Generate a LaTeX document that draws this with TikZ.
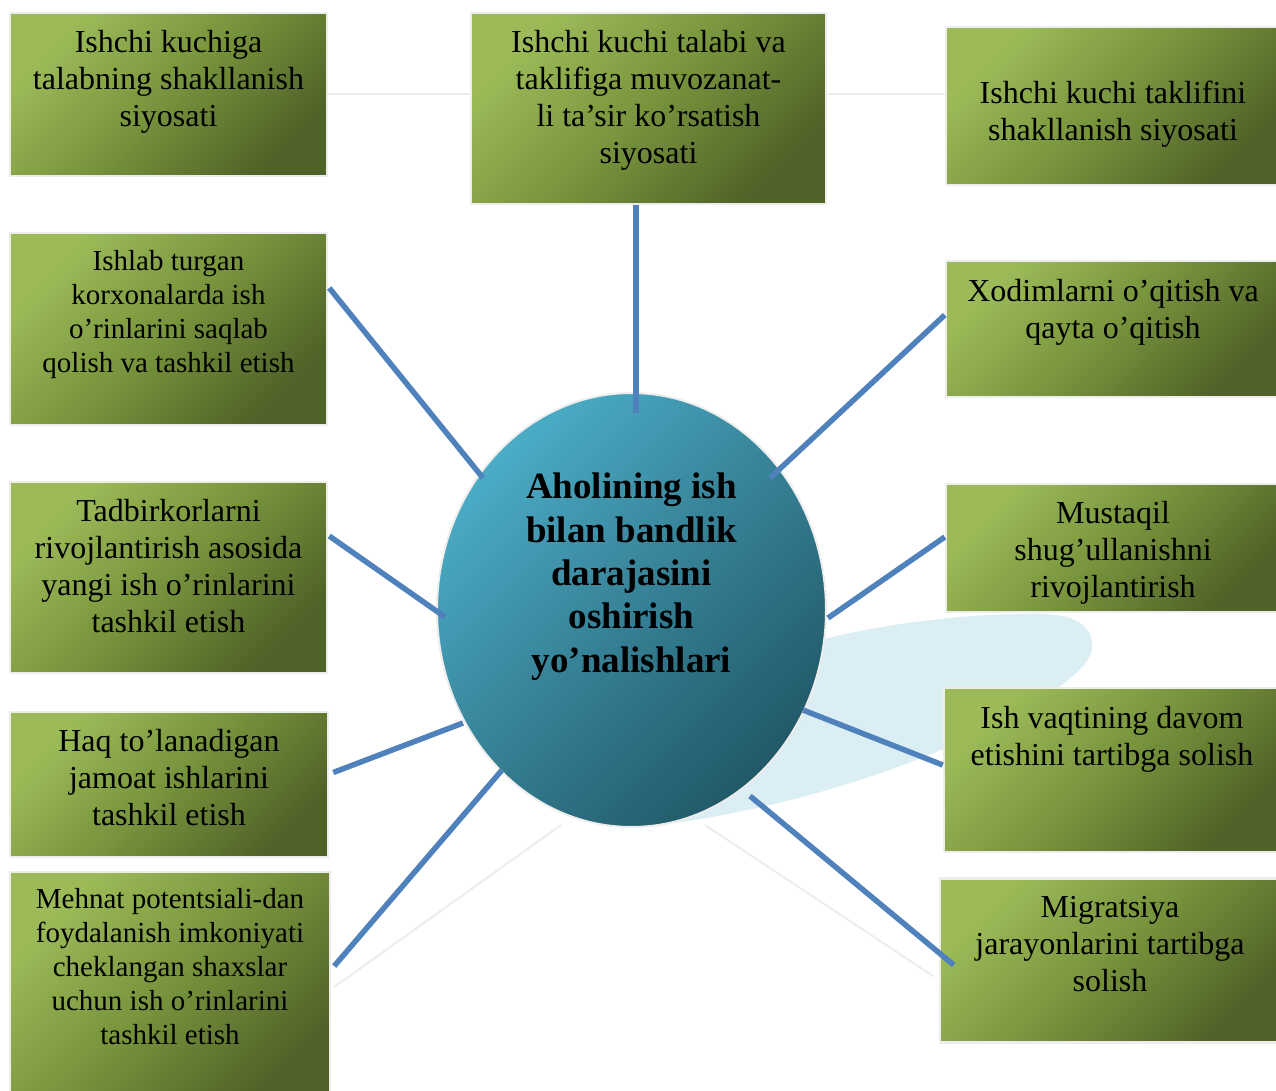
\documentclass[tikz,border=0pt]{standalone}
\usepackage{fontspec}
\setmainfont{Liberation Serif}
\usetikzlibrary{positioning,calc,shapes.geometric}
\definecolor{leafhi}{HTML}{9CBB58}
\definecolor{leafmid}{HTML}{77933C}
\definecolor{leaflo}{HTML}{4F6228}
\definecolor{hubhi}{HTML}{4BACC6}
\definecolor{hubmid}{HTML}{368196}
\definecolor{hublo}{HTML}{215968}
\definecolor{spoke}{HTML}{4F81BD}
\definecolor{swoosh}{HTML}{DAEEF3}
\definecolor{rim}{HTML}{EDEDED}
\tikzset{
  leaf/.style={draw=rim, line width=2.5pt, inner sep=0pt,
    top color=leafhi, bottom color=leaflo, middle color=leafmid, shading angle=45},
  hub/.style={ellipse, draw=rim, line width=2pt, inner sep=0pt,
    top color=hubhi, bottom color=hublo, middle color=hubmid, shading angle=45},
  txt/.style={align=center, inner sep=0pt, font=\fontsize{32}{37}\selectfont},
  smalltxt/.style={txt, font=\fontsize{29}{34}\selectfont},
  hubtxt/.style={align=center, inner sep=0pt, font=\bfseries\fontsize{37}{43.3}\selectfont},
  link/.style={draw=spoke, line width=5.5pt},
  ghost/.style={draw=rim, line width=2pt}
}
\begin{document}
\begin{tikzpicture}[x=1pt, y=-1pt]
\useasboundingbox (0,0) rectangle (1276,1091);
\fill[swoosh] (640,827) .. controls (760,815) and (900,775) .. (1000,722)
  .. controls (1060,690) and (1095,665) .. (1092,643)
  .. controls (1090,620) and (1065,614) .. (1040,614)
  .. controls (960,613) and (880,625) .. (820,640) -- (700,700) -- cycle;
% boxes
\node[leaf, minimum width=317pt, minimum height=163pt] (talab) at (168.5,94.5) {};
\node[leaf, minimum width=355pt, minimum height=191pt] (muvoz) at (648.5,108.5) {};
\node[leaf, minimum width=334pt, minimum height=158pt] (taklif) at (1113,106) {};
\node[leaf, minimum width=317pt, minimum height=192pt] (saqlash) at (168.5,329) {};
\node[leaf, minimum width=334pt, minimum height=136pt] (oqitish) at (1113,329) {};
\node[leaf, minimum width=317pt, minimum height=191pt] (tadbir) at (168.5,577.5) {};
\node[leaf, minimum width=334pt, minimum height=128pt] (mustaqil) at (1113,548) {};
\node[leaf, minimum width=318pt, minimum height=145pt] (jamoat) at (169,784.5) {};
\node[leaf, minimum width=336pt, minimum height=164pt] (vaqt) at (1112,770) {};
\node[leaf, minimum width=320pt, minimum height=232pt] (mehnat) at (170,988) {};
\node[leaf, minimum width=340pt, minimum height=164pt] (migr) at (1110,960.5) {};
% faint lines
\draw[ghost] (talab.east) -- (talab.east -| muvoz.west);
\draw[ghost] (muvoz.east |- talab.east) -- (taklif.west |- talab.east);
\coordinate (fl) at (561,825);
\coordinate (fr) at (705,825);
\draw[ghost] ($(mehnat.east)+(3,-1)$) -- (fl);
\draw[ghost] (fr) -- ($(migr.west)+(-5,16)$);
% centre
\node[hub, minimum width=389pt, minimum height=434pt] (hub) at (631.5,610) {};
\coordinate (in1) at (636,413);
\coordinate (in2) at (483,478);
\coordinate (in3) at (770,478);
\coordinate (in4) at (445,617);
\coordinate (in5) at (828,618);
\coordinate (in6) at (463,723);
\coordinate (in7) at (803,710);
\coordinate (in8) at (502,770);
\coordinate (in9) at (750,796);
\draw[link] ($(muvoz.south)+(-12.5,0)$) -- (in1);
\draw[link] ($(saqlash.east)+(1,-41)$) -- (in2);
\draw[link] ($(oqitish.west)+(0,-14)$) -- (in3);
\draw[link] ($(tadbir.east)+(1,-41.5)$) -- (in4);
\draw[link] ($(mustaqil.west)+(0,-11)$) -- (in5);
\draw[link] ($(jamoat.east)+(4,-12)$) -- (in6);
\draw[link] ($(vaqt.west)+(0,-5)$) -- (in7);
\draw[link] ($(mehnat.east)+(3,-22)$) -- (in8);
\draw[link] ($(migr.west)+(15,4.5)$) -- (in9);
% texts
\node[hubtxt, below=81pt of hub.north] {Aholining ish\\bilan bandlik\\darajasini\\oshirish\\yo’nalishlari};
\node[txt, below=18pt of talab.north] {Ishchi kuchiga\\talabning shakllanish\\siyosati};
\node[txt, below=18pt of muvoz.north] {Ishchi kuchi talabi va\\taklifiga muvozanat-\\li ta’sir ko’rsatish\\siyosati};
\node[txt, below=55pt of taklif.north] {Ishchi kuchi taklifini\\shakllanish siyosati};
\node[smalltxt, below=18pt of saqlash.north] {Ishlab turgan\\korxonalarda ish\\o’rinlarini saqlab\\qolish va tashkil etish};
\node[txt, below=19pt of oqitish.north] {Xodimlarni o’qitish va\\qayta o’qitish};
\node[txt, below=18pt of tadbir.north] {Tadbirkorlarni\\rivojlantirish asosida\\yangi ish o’rinlarini\\tashkil etish};
\node[txt, below=18pt of mustaqil.north] {Mustaqil\\shug’ullanishni\\rivojlantirish};
\node[txt, below=18pt of jamoat.north] {Haq to’lanadigan\\jamoat ishlarini\\tashkil etish};
\node[txt, below=19pt of vaqt.north] {Ish vaqtining davom\\etishini tartibga solish};
\node[smalltxt, below=17pt of mehnat.north] {Mehnat potentsiali-dan\\foydalanish imkoniyati\\cheklangan shaxslar\\uchun ish o’rinlarini\\tashkil etish};
\node[txt, below=19pt of migr.north] {Migratsiya\\jarayonlarini tartibga\\solish};
\end{tikzpicture}
\end{document}
